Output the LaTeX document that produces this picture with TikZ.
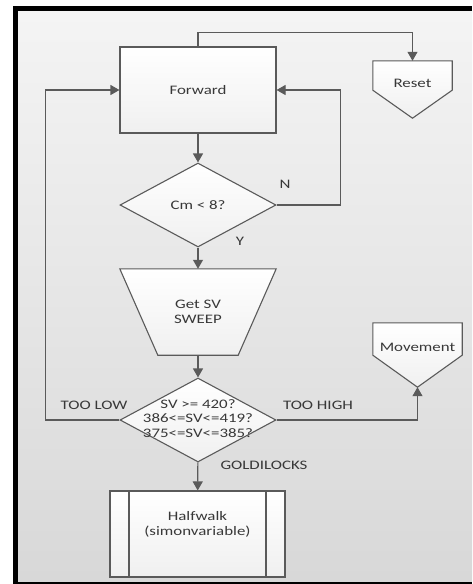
\documentclass[tikz,border=0pt]{standalone}
\usepackage{fontspec}
\setmainfont{Carlito}[FakeStretch=1.3]
\usetikzlibrary{arrows.meta,backgrounds,shapes.geometric}

\definecolor{linegray}{HTML}{5A5A5A}
\definecolor{textgray}{HTML}{383838}
\definecolor{bgtop}{HTML}{F4F4F4}
\definecolor{bgbot}{HTML}{D8D8D8}

\begin{document}
\begin{tikzpicture}
  [
   x=1pt, y=-1pt,
   every node/.style={font=\fontsize{13}{15}\selectfont, text=textgray},
   line/.style={draw=linegray, line width=1.1pt},
   arr/.style={line, -{Triangle[width=10pt,length=9pt]}},
   shapefill/.style={top color=white, bottom color=black!6},
   box/.style={rectangle, line, shapefill, minimum width=156pt, minimum height=86pt},
   decision/.style={diamond, line, shapefill, inner sep=0pt, minimum width=156pt, minimum height=84pt},
   sweep/.style={rectangle, minimum width=156pt, minimum height=86pt, align=center},
   subproc/.style={rectangle, line, shapefill, minimum width=175pt, minimum height=86pt, align=center,
                   path picture={
                     \draw[line] ([xshift=19pt]path picture bounding box.north west) -- ([xshift=19pt]path picture bounding box.south west);
                     \draw[line] ([xshift=-19pt]path picture bounding box.north east) -- ([xshift=-19pt]path picture bounding box.south east);
                   }},
   offpage/.style={rectangle, inner ysep=0pt},
   lbl/.style={inner sep=1pt}
  ]
  \useasboundingbox (0,0) rectangle (472,584);

  \node[box] (forward) at (198,90) {Forward};
  \node[offpage, minimum width=79pt, text height=26pt, text depth=31pt] (reset) at (412.5,89.5) {Reset};
  \node[decision] (cmcheck) at (198,205) {};
  \node (cmtext) at (cmcheck) {Cm < 8?};
  \node[sweep] (getsv) at (198,312) {Get SV\\SWEEP};
  \node[offpage, minimum width=89pt, text height=28pt, text depth=36pt] (movement) at (417.5,355) {Movement};
  \node[decision] (svcheck) at (198,420) {};
  \node[align=center, font=\fontsize{13}{14.5}\selectfont] (svtext) at (198,418.5) {SV >= 420?\\386<=SV<=419?\\375<=SV<=385?};
  \node[subproc] (halfwalk) at (197.5,534) {Halfwalk\\(simonvariable)\\[6pt]};

  \begin{scope}[on background layer]
    \fill[black] (13,6) rectangle (472,584);
    \shade[top color=bgtop, bottom color=bgbot] (18,11) rectangle (472,581);
    \draw[line, shapefill] (reset.north west) -- (reset.north east) -- ([yshift=28pt]reset.south east)
      -- (reset.south) -- ([yshift=28pt]reset.south west) -- cycle;
    \draw[line, shapefill] (movement.north west) -- (movement.north east) -- ([yshift=32pt]movement.south east)
      -- (movement.south) -- ([yshift=32pt]movement.south west) -- cycle;
    \draw[line, shapefill] (getsv.north west) -- (getsv.north east) -- ([xshift=-38pt]getsv.south east)
      -- ([xshift=38pt]getsv.south west) -- cycle;
  \end{scope}

  \draw[arr] (forward.north) -- ++(0,-14) -| (reset.north);
  \draw[arr] (forward) -- (cmcheck);
  \draw[arr] (cmcheck.east) -- ++(64,0) |- (forward.east);
  \draw[arr] (cmcheck) -- (getsv);
  \draw[arr] (getsv) -- (svcheck);
  \draw[arr] (svcheck.west) -- ++(-74,0) |- (forward.west);
  \draw[arr] (svcheck.east) -| (movement.south);
  \draw[arr] (svcheck) -- (halfwalk);

  \node[lbl] (nlbl) at (285,184) {N};
  \node[lbl] (ylbl) at (240,241) {Y};
  \node[lbl] (lowlbl) at (94,405) {TOO LOW};
  \node[lbl] (highlbl) at (318,405) {TOO HIGH};
  \node[lbl] (goldlbl) at (264,465) {GOLDILOCKS};
\end{tikzpicture}
\end{document}
